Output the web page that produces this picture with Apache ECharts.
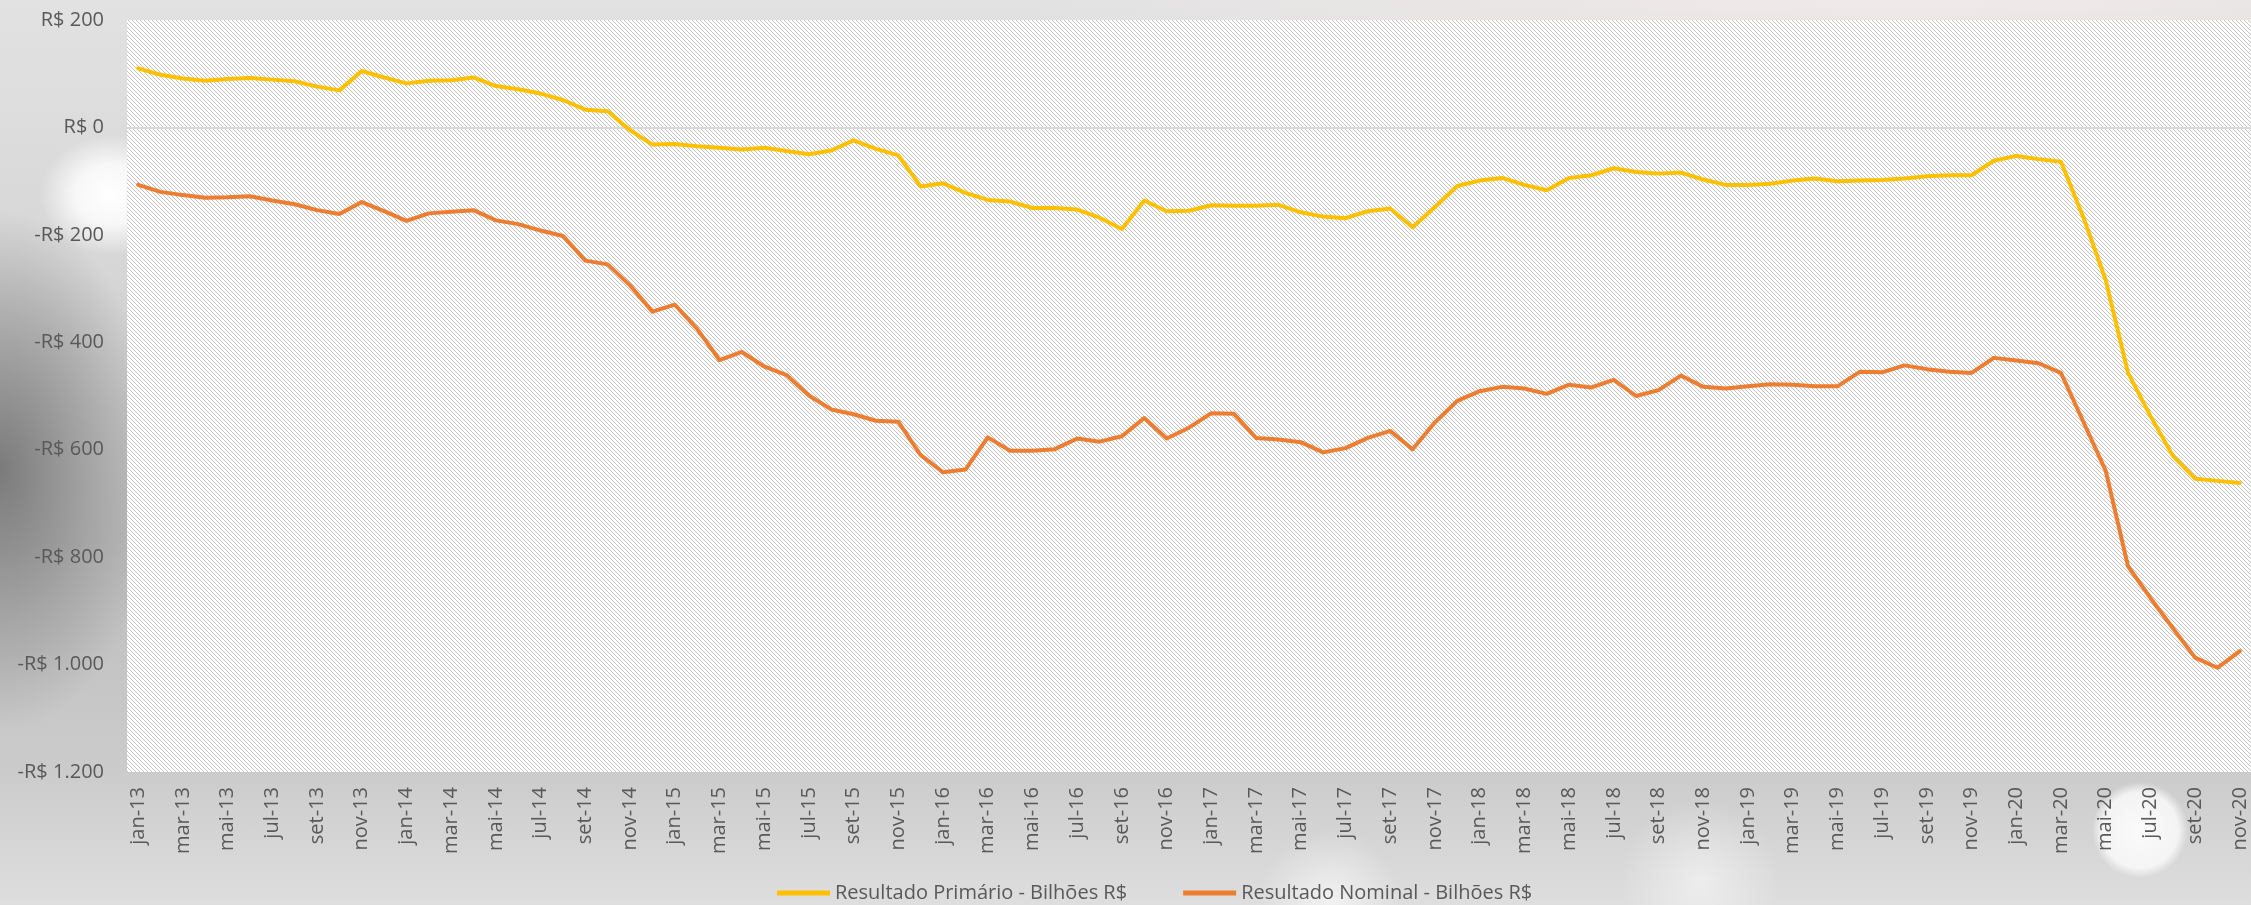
<!DOCTYPE html>
<html>
<head>
<meta charset="utf-8">
<script src="https://cdn.jsdelivr.net/npm/echarts@6/dist/echarts.min.js"></script>
<style>
  html, body { margin: 0; padding: 0; width: 2251px; height: 905px; overflow: hidden; }
  body {
    background:
      radial-gradient(circle at 2140px 830px, rgba(255,255,255,0.9) 0, rgba(255,255,255,0.75) 38px, rgba(255,255,255,0) 48px),
      radial-gradient(circle at 1330px 900px, rgba(255,255,255,0.6) 0, rgba(255,255,255,0) 70px),
      radial-gradient(circle at 1700px 880px, rgba(255,255,255,0.5) 0, rgba(255,255,255,0) 80px),
      radial-gradient(ellipse 70px 60px at 110px 195px, rgba(255,255,255,1) 0, rgba(255,255,255,0.8) 35px, rgba(255,255,255,0) 70px),
      radial-gradient(ellipse 160px 260px at 0px 470px, rgba(110,110,110,0.85) 0, rgba(140,140,140,0.5) 60%, rgba(160,160,160,0) 100%),
      radial-gradient(ellipse 900px 60px at 1900px 0px, rgba(245,235,235,0.8) 0, rgba(240,240,240,0) 100%),
      linear-gradient(to bottom, #e2e2e2 0%, #d6d6d6 30%, #bdbdbd 60%, #cbcbcb 85%, #dedede 100%);
  }
  #chart { width: 2251px; height: 905px; }
</style>
</head>
<body>
<div id="chart"></div>
<script>
// ---- data ----
const monthNames = ['jan','fev','mar','abr','mai','jun','jul','ago','set','out','nov','dez'];
const years = ['13','14','15','16','17','18','19','20'];
const lastMonthIndexOf2020 = 10; // nov-20
const categories = [];
years.forEach(function (y) {
  monthNames.forEach(function (m, mi) {
    if (y === '20' && mi > lastMonthIndexOf2020) return;
    categories.push(m + '-' + y);
  });
});

const seriesNames = ['Resultado Primário - Bilhões R$', 'Resultado Nominal - Bilhões R$'];

const primario = [
  110, 98, 91, 87, 90, 92, 89, 86, 76, 69, 105, 93,
  82, 87, 88, 93, 77, 71, 63, 51, 33, 30, -5, -32,
  -31, -35, -38, -41, -38, -44, -50, -43, -24, -40, -52, -110,
  -104, -122, -135, -138, -150, -150, -153, -168, -189, -136, -156, -155,
  -145, -146, -146, -144, -158, -166, -169, -156, -151, -186, -148, -109,
  -99, -94, -107, -117, -94, -89, -76, -83, -86, -84, -97, -107,
  -107, -105, -99, -95, -100, -99, -98, -95, -91, -89, -89, -62,
  -53, -59, -64, -167, -284, -457, -537, -611, -654, -658, -662
];

const nominal = [
  -107, -120, -126, -131, -130, -128, -136, -143, -154, -161, -139, -156,
  -174, -160, -157, -154, -173, -180, -192, -202, -248, -255, -294, -343,
  -330, -375, -433, -418, -445, -461, -499, -525, -534, -546, -548, -610,
  -642, -637, -577, -602, -602, -599, -579, -585, -575, -541, -579, -559,
  -532, -533, -578, -581, -586, -605, -597, -578, -565, -599, -549, -509,
  -491, -483, -486, -496, -479, -484, -470, -500, -489, -462, -483, -486,
  -482, -478, -479, -482, -482, -455, -456, -443, -450, -455, -457, -429,
  -434, -439, -457, -548, -639, -817, -876, -932, -987, -1006, -975
];

const yMin = -1200, yMax = 200, yStep = 200;

// ---- hatch pattern for plot area ----
const pc = document.createElement('canvas');
pc.width = 8; pc.height = 8;
const pctx = pc.getContext('2d');
pctx.fillStyle = '#ffffff';
pctx.fillRect(0, 0, 8, 8);
pctx.fillStyle = '#c2c2c2';
for (let k = 0; k < 8; k++) {
  pctx.fillRect(k, k, 1, 1);
  pctx.fillRect(k, (k + 4) % 8, 1, 1);
}

function fmtBRL(v) {
  const a = Math.abs(v);
  const s = String(a).replace(/\B(?=(\d{3})+(?!\d))/g, '.');
  return (v < 0 ? '-' : '') + 'R$ ' + s;
}

const chart = echarts.init(document.getElementById('chart'), null, { renderer: 'canvas' });
const labelFont = "'Open Sans', 'Noto Sans', sans-serif";
chart.setOption({
  backgroundColor: 'transparent',
  animation: false,
  grid: {
    left: 127, right: 0, top: 20, bottom: 133,
    show: true,
    borderWidth: 0,
    backgroundColor: { image: pc, repeat: 'repeat' }
  },
  legend: {
    left: 772,
    top: 878,
    icon: 'rect',
    itemWidth: 53,
    itemHeight: 5,
    itemGap: 56,
    textStyle: {
      fontFamily: labelFont,
      fontSize: 20,
      color: '#595959'
    },
    data: seriesNames
  },
  xAxis: {
    type: 'category',
    data: categories,
    boundaryGap: true,
    axisLine: { show: false },
    axisTick: { show: false },
    splitLine: { show: false },
    axisLabel: {
      interval: 1,
      rotate: 90,
      margin: 15,
      fontSize: 20,
      fontFamily: labelFont,
      color: '#595959'
    }
  },
  yAxis: {
    type: 'value',
    min: yMin, max: yMax, interval: yStep,
    axisLine: { show: false },
    axisTick: { show: false },
    splitLine: { show: false },
    axisLabel: {
      margin: 23,
      fontSize: 20,
      fontFamily: labelFont,
      color: '#595959',
      formatter: fmtBRL
    }
  },
  series: [
    {
      name: seriesNames[0],
      type: 'line',
      data: primario,
      showSymbol: false,
      symbol: 'none',
      lineStyle: { color: '#FFC000', width: 4, cap: 'round', join: 'round' },
      itemStyle: { color: '#FFC000' },
      z: 3,
      markLine: {
        silent: true,
        symbol: 'none',
        label: { show: false },
        lineStyle: { color: '#d9d9d9', width: 2, type: 'solid' },
        data: [{ yAxis: 0 }],
        z: 1
      }
    },
    {
      name: seriesNames[1],
      type: 'line',
      data: nominal,
      showSymbol: false,
      symbol: 'none',
      lineStyle: { color: '#ED7D31', width: 4, cap: 'round', join: 'round' },
      itemStyle: { color: '#ED7D31' },
      z: 3
    }
  ]
});
</script>
</body>
</html>
